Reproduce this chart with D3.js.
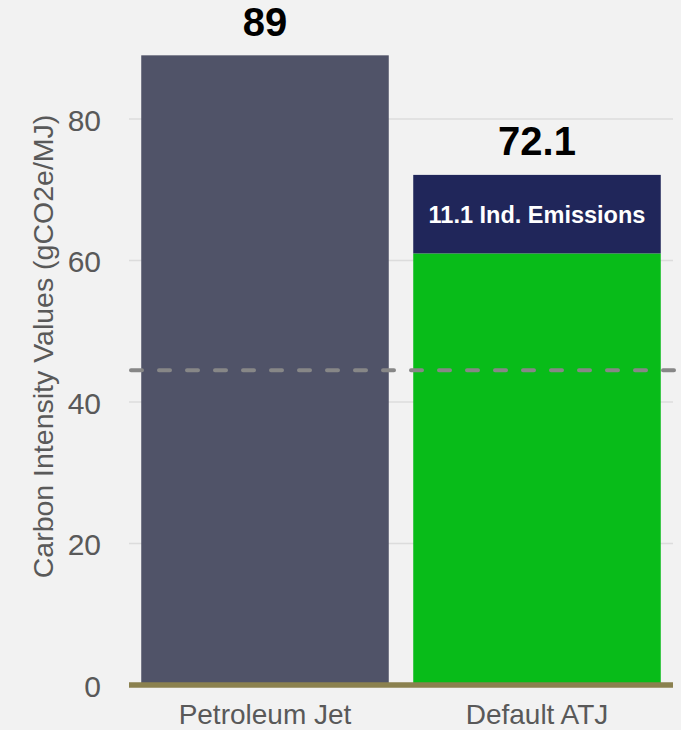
<!DOCTYPE html>
<html>
<head>
<meta charset="utf-8">
<script src="https://cdn.jsdelivr.net/npm/d3@7/dist/d3.min.js"></script>
<style>
  html, body { margin: 0; padding: 0; background: #f2f2f2; }
  svg { display: block; }
  text { font-family: "Liberation Sans", Arial, Helvetica; }
</style>
</head>
<body>
<svg id="chart" width="681" height="730"></svg>
<script>
// Fuel pathways and their carbon intensity components (gCO2e/MJ)
const categories = ["Petroleum Jet", "Default ATJ"];
const baseValues = [89, 61];
const indirectValues = [0, 11.1];
const totalLabels = ["89", "72.1"];
const indirectLabels = ["", "11.1 Ind. Emissions"];
const yTicks = [0, 20, 40, 60, 80];
const referenceLine = 44.5;

const baseColors = ["#505368", "#08bc19"];
const indirectColor = "#20265a";
const FONT = '"Liberation Sans", Arial, Helvetica';

const svg = d3.select("#chart");
const margin = { left: 129, right: 8 };
const W = 681;

const x = d3.scaleBand()
  .domain(categories)
  .range([margin.left, W - margin.right])
  .paddingInner(0.09)
  .paddingOuter(0.045);

const y = d3.scaleLinear()
  .domain([0, 80])
  .range([685, 119]);

// Horizontal gridlines
svg.append("g")
  .selectAll("line")
  .data(yTicks.filter(d => d > 0))
  .join("line")
  .attr("x1", margin.left)
  .attr("x2", W - margin.right)
  .attr("y1", d => y(d))
  .attr("y2", d => y(d))
  .attr("stroke", "#dcdcdc")
  .attr("stroke-width", 1.5);

// Y axis tick labels
const yAxis = d3.axisLeft(y).tickValues(yTicks).tickSize(0).tickPadding(0);
const yg = svg.append("g")
  .attr("transform", "translate(101,0)")
  .call(yAxis);
yg.select(".domain").remove();
yg.selectAll("text")
  .attr("dy", "0.37em")
  .style("font-family", FONT)
  .style("font-size", "30px")
  .attr("fill", "#595959");

// Base bars
svg.append("g")
  .selectAll("rect")
  .data(categories)
  .join("rect")
  .attr("x", d => x(d))
  .attr("width", x.bandwidth())
  .attr("y", (d, i) => y(baseValues[i]))
  .attr("height", (d, i) => y(0) - y(baseValues[i]))
  .attr("fill", (d, i) => baseColors[i]);

// Indirect emissions segments stacked on top
const stacked = categories
  .map((c, i) => ({ c, base: baseValues[i], extra: indirectValues[i], label: indirectLabels[i] }))
  .filter(d => d.extra > 0);

svg.append("g")
  .selectAll("rect")
  .data(stacked)
  .join("rect")
  .attr("x", d => x(d.c))
  .attr("width", x.bandwidth())
  .attr("y", d => y(d.base + d.extra))
  .attr("height", d => y(d.base) - y(d.base + d.extra))
  .attr("fill", indirectColor);

// Indirect segment labels
svg.append("g")
  .selectAll("text")
  .data(stacked)
  .join("text")
  .attr("x", d => x(d.c) + x.bandwidth() / 2)
  .attr("y", d => y(d.base + d.extra / 2))
  .attr("dy", "0.36em")
  .attr("text-anchor", "middle")
  .style("font-family", FONT)
  .style("font-size", "23.5px")
  .style("font-weight", "bold")
  .attr("fill", "#ffffff")
  .text(d => d.label);

// Total value labels above bars
svg.append("g")
  .selectAll("text")
  .data(categories)
  .join("text")
  .attr("x", d => x(d) + x.bandwidth() / 2)
  .attr("y", (d, i) => y(baseValues[i] + indirectValues[i]) - 19.5)
  .attr("text-anchor", "middle")
  .style("font-family", FONT)
  .style("font-size", "40px")
  .style("font-weight", "bold")
  .attr("fill", "#000000")
  .text((d, i) => totalLabels[i]);

// Reference dashed line
svg.append("line")
  .attr("x1", margin.left + 2)
  .attr("x2", 677)
  .attr("y1", y(referenceLine))
  .attr("y2", y(referenceLine))
  .attr("stroke", "#878787")
  .attr("stroke-width", 4)
  .attr("stroke-dasharray", "11,17")
  .attr("stroke-linecap", "round");

// Baseline
svg.append("line")
  .attr("x1", margin.left)
  .attr("x2", W - margin.right)
  .attr("y1", y(0))
  .attr("y2", y(0))
  .attr("stroke", "#8b814f")
  .attr("stroke-width", 5.5);

// X axis category labels
const xAxis = d3.axisBottom(x).tickSize(0).tickPadding(0);
const xg = svg.append("g")
  .attr("transform", "translate(0,724)")
  .call(xAxis);
xg.select(".domain").remove();
xg.selectAll("text")
  .attr("dy", 0)
  .style("font-family", FONT)
  .style("font-size", "28px")
  .attr("fill", "#595959");

// Y axis title
svg.append("text")
  .attr("transform", "translate(53,346.5) rotate(-90)")
  .attr("text-anchor", "middle")
  .style("font-family", FONT)
  .style("font-size", "28.5px")
  .attr("fill", "#595959")
  .text("Carbon Intensity Values (gCO2e/MJ)");
</script>
</body>
</html>
